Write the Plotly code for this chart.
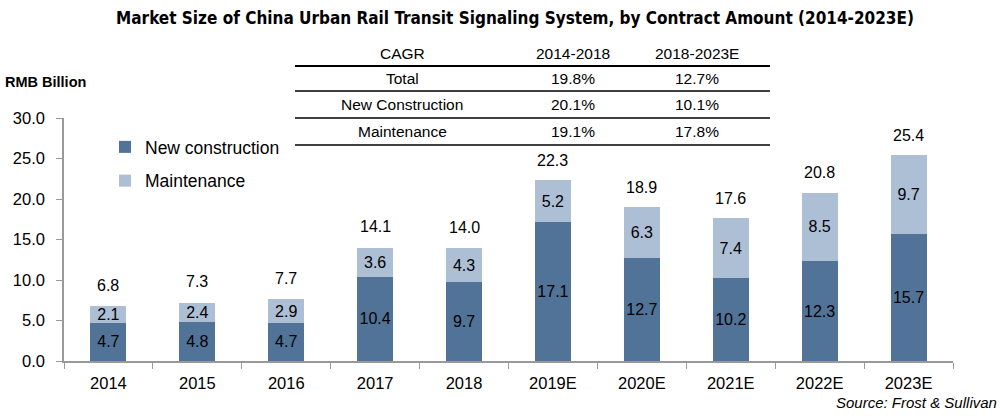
import plotly.graph_objects as go

years = ["2014", "2015", "2016", "2017", "2018", "2019E", "2020E", "2021E", "2022E", "2023E"]
new_construction = [4.7, 4.8, 4.7, 10.4, 9.7, 17.1, 12.7, 10.2, 12.3, 15.7]
maintenance = [2.1, 2.4, 2.9, 3.6, 4.3, 5.2, 6.3, 7.4, 8.5, 9.7]
totals = [6.8, 7.3, 7.7, 14.1, 14.0, 22.3, 18.9, 17.6, 20.8, 25.4]

cagr_header = ["CAGR", "2014-2018", "2018-2023E"]
cagr_rows = [["Total", "19.8%", "12.7%"],
             ["New Construction", "20.1%", "10.1%"],
             ["Maintenance", "19.1%", "17.8%"]]

DARK = "#527398"
LIGHT = "#ADBFD4"
FONT = "Liberation Sans"

fig = go.Figure()
fig.add_trace(go.Bar(x=years, y=new_construction, name="New construction",
                     marker=dict(color=DARK, line=dict(width=0)),
                     text=[f"{v:.1f}" for v in new_construction], textposition="inside",
                     insidetextanchor="middle", textangle=0, constraintext="none",
                     textfont=dict(color="black", size=16, family=FONT),
                     legendgroup="a"))
fig.add_trace(go.Bar(x=years, y=maintenance, name="Maintenance",
                     marker=dict(color=LIGHT, line=dict(width=0)),
                     text=[f"{v:.1f}" for v in maintenance], textposition="inside",
                     insidetextanchor="middle", textangle=0, constraintext="none",
                     textfont=dict(color="black", size=16, family=FONT),
                     legendgroup="b"))

for i, t in enumerate(totals):
    fig.add_annotation(x=i, y=t, text=f"{t:.1f}", showarrow=False, yshift=20,
                       font=dict(size=16, color="black", family=FONT))

# CAGR table
W, H = 1000, 416
L, R, T, B = 64, 47, 118, 55
pw, ph = W - L - R, H - T - B

def px(xp):
    return (xp - L) / pw

def py(yp):
    return (H - B - yp) / ph

col_x = [402, 573, 697]
row_y = [53, 79, 105, 131]
line_y = [66, 91, 118, 145]
for i, yl in enumerate(line_y):
    fig.add_shape(type="line", xref="paper", yref="paper",
                  x0=px(295), x1=px(770), y0=py(yl), y1=py(yl),
                  line=dict(color="black", width=2 if i == 0 else 1.3))
rows = [cagr_header] + cagr_rows
for r, row in enumerate(rows):
    for c, txt in enumerate(row):
        fig.add_annotation(xref="paper", yref="paper", x=px(col_x[c]), y=py(row_y[r]),
                           text=txt, showarrow=False, xanchor="center", yanchor="middle",
                           font=dict(size=15.5, color="black", family=FONT))

fig.add_annotation(xref="paper", yref="paper", x=px(3), y=py(82), xanchor="left", yanchor="middle",
                   text="<b>RMB Billion</b>", showarrow=False,
                   font=dict(size=14.5, color="black", family=FONT))
fig.add_annotation(xref="paper", yref="paper", x=px(999), y=py(403), xanchor="right", yanchor="middle",
                   text="<i>Source: Frost & Sullivan</i>", showarrow=False,
                   font=dict(size=15, color="black", family=FONT))

fig.update_layout(
    width=W, height=H,
    margin=dict(l=L, r=R, t=T, b=B),
    paper_bgcolor="white", plot_bgcolor="white",
    barmode="stack", bargap=0.595,
    title=dict(text="<b>Market Size of China Urban Rail Transit Signaling System, by Contract Amount (2014-2023E)</b>",
               x=0.515, xanchor="center", y=1 - 18 / H, yanchor="middle",
               font=dict(family="Liberation Sans Narrow, DejaVu Sans Condensed, Liberation Sans, sans-serif",
                         size=17, color="black")),
    legend=dict(x=px(105), y=py(129), xanchor="left", yanchor="top",
                traceorder="grouped", tracegroupgap=8,
                font=dict(size=17.5, color="black", family=FONT),
                bgcolor="rgba(0,0,0,0)", itemwidth=30),
    font=dict(family=FONT, color="black"),
)
fig.update_xaxes(type="category", showline=True, linecolor="#999999", linewidth=1.5,
                 ticks="outside", tickson="boundaries", ticklen=6, tickcolor="#999999",
                 ticklabelstandoff=6,
                 tickfont=dict(size=16.5, color="black", family=FONT), showgrid=False)
fig.update_yaxes(range=[0, 30], dtick=5, tickformat=".1f", showline=True, linecolor="#999999",
                 linewidth=1.5, ticks="outside", ticklen=6, tickcolor="#999999",
                 ticklabelstandoff=8,
                 tickfont=dict(size=16.5, color="black", family=FONT), showgrid=False, zeroline=False)

fig.write_html("out.html")
